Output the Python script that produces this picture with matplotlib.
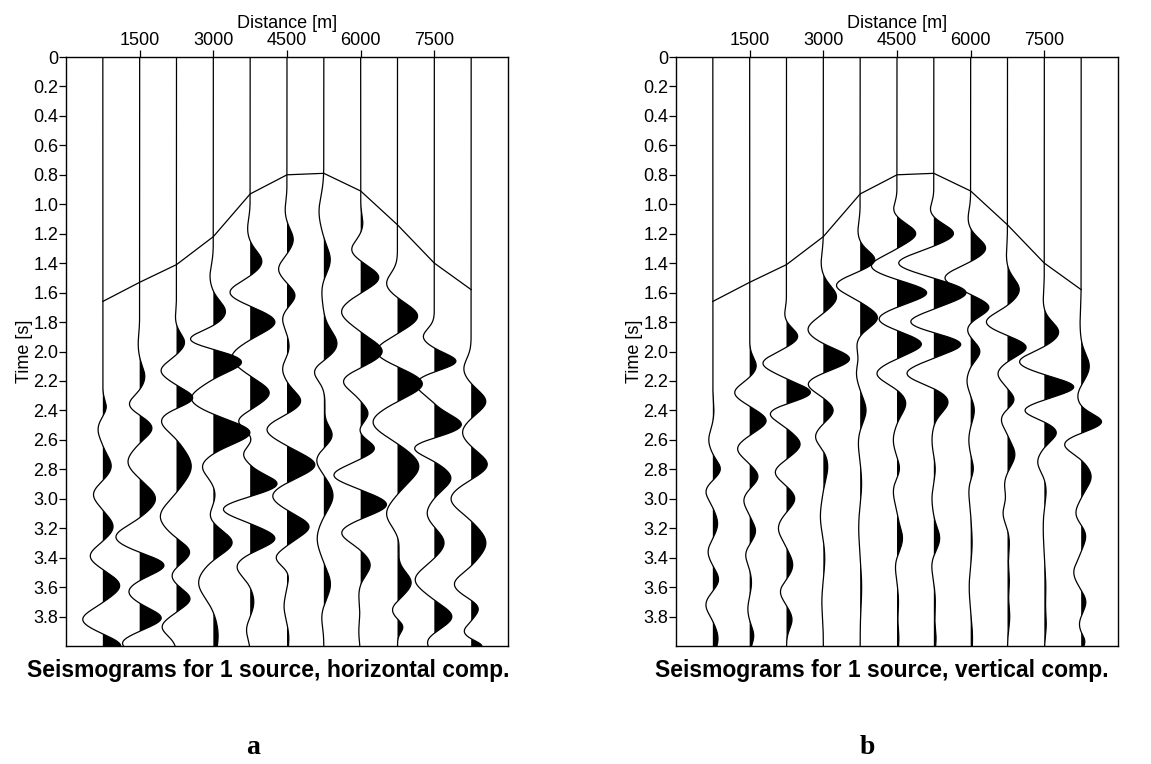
import numpy as np
import matplotlib.pyplot as plt

plt.rcParams['font.family'] = ['Liberation Sans', 'DejaVu Sans']

# receiver offsets [m] and first-arrival times [s]
offsets = [750, 1500, 2250, 3000, 3750, 4500, 5250, 6000, 6750, 7500, 8250]
first_break = [1.66, 1.53, 1.41, 1.22, 0.93, 0.80, 0.79, 0.91, 1.14, 1.40, 1.58]

x_ticks = [1500, 3000, 4500, 6000, 7500]
t_ticks = [0, 0.2, 0.4, 0.6, 0.8, 1.0, 1.2, 1.4, 1.6, 1.8, 2.0, 2.2, 2.4, 2.6,
           2.8, 3.0, 3.2, 3.4, 3.6, 3.8]
t_labels = ['0', '0.2', '0.4', '0.6', '0.8', '1.0', '1.2', '1.4', '1.6', '1.8',
            '2.0', '2.2', '2.4', '2.6', '2.8', '3.0', '3.2', '3.4', '3.6', '3.8']

# wiggle lobes per trace: (time of extremum [s], deflection in trace spacings)
horiz_lobes = [
    [(2.38, 0.10), (2.53, -0.13), (2.78, 0.23), (2.97, -0.26), (3.19, 0.28),
     (3.39, -0.35), (3.59, 0.46), (3.82, -0.55), (4.00, 0.50)],
    [(1.95, -0.04), (2.17, 0.14), (2.36, -0.29), (2.52, 0.34), (2.75, -0.32),
     (3.00, 0.43), (3.26, -0.65), (3.45, 0.68), (3.63, -0.30), (3.81, 0.59),
     (3.98, -0.47)],
    [(1.77, -0.03), (1.94, 0.22), (2.13, -0.42), (2.32, 0.49), (2.47, -0.42),
     (2.78, 0.40), (3.12, -0.44), (3.36, 0.37), (3.52, -0.14), (3.68, 0.37),
     (3.87, -0.39)],
    [(1.49, -0.09), (1.73, 0.33), (1.92, -0.67), (2.07, 0.78), (2.32, -0.60),
     (2.55, 1.00), (2.78, -0.30), (2.97, 0.05), (3.12, -0.10), (3.30, 0.52),
     (3.57, -0.40), (3.93, 0.13)],
    [(1.17, -0.07), (1.39, 0.32), (1.60, -0.56), (1.80, 0.68), (2.04, -0.50),
     (2.28, 0.52), (2.47, -0.32), (2.60, 0.05), (2.70, -0.18), (2.90, 0.74),
     (3.07, -0.74), (3.27, 0.68), (3.46, -0.36), (3.70, 0.10), (3.89, -0.10)],
    [(1.04, -0.05), (1.24, 0.17), (1.44, -0.23), (1.62, 0.22), (1.78, -0.12),
     (1.97, 0.06), (2.12, -0.12), (2.34, 0.38), (2.53, -0.55), (2.77, 0.76),
     (2.98, -0.40), (3.19, 0.60), (3.40, -0.30), (3.52, 0.05), (3.73, -0.08),
     (3.95, 0.05)],
    [(1.05, -0.13), (1.38, 0.18), (1.58, -0.06), (1.95, 0.36), (2.13, -0.29),
     (2.35, 0.03), (2.57, 0.23), (2.74, -0.20), (2.98, 0.25), (3.27, -0.18),
     (3.58, 0.18), (3.80, -0.06)],
    [(1.13, 0.06), (1.31, -0.25), (1.50, 0.50), (1.73, -0.52), (2.00, 0.59),
     (2.20, -0.48), (2.42, 0.20), (2.53, -0.05), (2.66, 0.38), (2.84, -0.73),
     (3.04, 0.71), (3.23, -0.52), (3.45, 0.26), (3.65, -0.05), (3.90, -0.05)],
    [(1.54, -0.30), (1.76, 0.55), (2.00, -0.58), (2.22, 0.69), (2.48, -0.67),
     (2.78, 0.58), (3.10, -0.30), (3.30, 0.05), (3.57, 0.37), (3.75, -0.15),
     (3.87, 0.15)],
    [(1.90, -0.30), (2.07, 0.63), (2.22, -0.50), (2.50, 0.75), (2.65, -0.60),
     (2.86, 0.45), (3.10, -0.20), (3.30, 0.27), (3.55, -0.52), (3.80, 0.48),
     (3.97, -0.20)],
    [(2.12, -0.20), (2.34, 0.40), (2.55, -0.24), (2.77, 0.45), (3.00, -0.55),
     (3.30, 0.40), (3.58, -0.46), (3.74, 0.22), (3.90, -0.19), (4.00, 0.30)],
]

vert_lobes = [
    [(2.40, 0.03), (2.60, -0.11), (2.80, 0.21), (2.95, -0.19), (3.17, 0.13),
     (3.36, -0.13), (3.55, 0.16), (3.72, -0.19), (3.95, 0.14)],
    [(2.10, 0.18), (2.28, -0.41), (2.47, 0.45), (2.66, -0.33), (2.85, 0.23),
     (3.01, -0.16), (3.22, 0.16), (3.38, -0.11), (3.57, 0.05), (3.75, -0.05),
     (3.93, 0.11)],
    [(1.75, -0.05), (1.90, 0.31), (2.08, -0.64), (2.28, 0.67), (2.42, -0.46),
     (2.63, 0.37), (2.82, -0.31), (3.00, 0.23), (3.20, -0.22), (3.45, 0.17),
     (3.63, -0.17), (3.82, 0.15)],
    [(1.40, -0.06), (1.63, 0.36), (1.85, -0.42), (2.05, 0.72), (2.22, -0.42),
     (2.40, 0.27), (2.58, -0.22), (2.78, 0.12), (3.12, -0.08), (3.40, 0.04),
     (3.70, -0.04)],
    [(1.18, -0.06), (1.38, 0.41), (1.55, -0.65), (1.77, 0.47), (1.95, -0.09),
     (2.15, -0.10), (2.40, 0.16), (2.62, -0.05), (2.90, 0.04), (3.20, -0.04),
     (3.60, 0.04)],
    [(1.04, -0.10), (1.20, 0.51), (1.42, -0.70), (1.60, 0.82), (1.78, -0.50),
     (1.95, 0.67), (2.15, -0.55), (2.35, 0.24), (2.60, -0.10), (2.80, 0.08),
     (2.95, -0.10), (3.27, 0.15), (3.45, -0.05), (3.70, 0.04), (3.95, 0.05)],
    [(1.04, -0.10), (1.20, 0.54), (1.40, -0.96), (1.60, 0.88), (1.80, -0.65),
     (1.95, 0.75), (2.15, -0.74), (2.34, 0.39), (2.60, -0.05), (2.80, 0.04),
     (3.00, -0.05), (3.27, 0.16), (3.45, -0.06), (3.70, 0.04), (3.95, 0.06)],
    [(1.10, -0.07), (1.30, 0.41), (1.50, -0.70), (1.70, 0.50), (1.85, -0.10),
     (2.00, 0.25), (2.20, -0.10), (2.40, 0.10), (2.60, -0.05), (2.80, 0.08),
     (2.95, -0.05), (3.30, 0.04), (3.60, -0.04), (3.95, 0.05)],
    [(1.35, -0.03), (1.58, 0.32), (1.80, -0.58), (1.97, 0.52), (2.15, -0.26),
     (2.33, 0.19), (2.46, -0.17), (2.70, 0.20), (2.90, -0.08), (3.10, -0.12),
     (3.30, 0.05), (3.55, 0.05), (3.80, 0.06)],
    [(1.65, -0.03), (1.87, 0.39), (2.07, -0.68), (2.24, 0.81), (2.40, -0.54),
     (2.55, 0.33), (2.75, -0.18), (2.95, 0.05), (3.20, -0.03), (3.60, 0.04),
     (3.85, 0.05)],
    [(1.80, -0.03), (2.10, 0.22), (2.30, -0.10), (2.48, 0.57), (2.63, -0.46),
     (2.85, 0.27), (3.10, -0.15), (3.25, 0.13), (3.50, -0.20), (3.70, 0.13),
     (3.85, -0.05), (3.97, 0.10)],
]

spacing = offsets[1] - offsets[0]
t = np.linspace(0.0, 4.0, 2001)


def trace_from_lobes(lobes):
    # sum of gaussian lobes, width taken from the gap to neighbouring extrema
    times = np.array([l[0] for l in lobes])
    amps = np.array([l[1] for l in lobes])
    gaps = np.diff(times)
    trace = np.zeros_like(t)
    for i in range(len(times)):
        near = []
        if i > 0:
            near.append(gaps[i - 1])
        if i < len(gaps):
            near.append(gaps[i])
        w = 0.45 * np.mean(near)
        trace += amps[i] * np.exp(-((t - times[i]) / w) ** 2)
    return trace


def draw_panel(ax, lobes_list):
    for x0, lobes in zip(offsets, lobes_list):
        xs = x0 + trace_from_lobes(lobes) * spacing
        ax.fill_betweenx(t, x0, xs, where=xs > x0, color='black', lw=0,
                         interpolate=True)
        ax.plot(xs, t, color='black', lw=0.9)
    ax.plot(offsets, first_break, color='black', lw=0.9)

    ax.set_xlim(0, 9000)
    ax.set_ylim(4.0, 0)
    ax.xaxis.tick_top()
    ax.xaxis.set_label_position('top')
    ax.set_xticks(x_ticks)
    ax.set_yticks(t_ticks)
    ax.set_yticklabels(t_labels)
    ax.tick_params(direction='out', length=5, width=0.9, labelsize=13,
                   pad=0.5, top=True, bottom=False, right=False)
    ax.set_xlabel('Distance [m]', fontsize=13, labelpad=3)
    ax.set_ylabel('Time [s]', fontsize=13, labelpad=0)
    for s in ax.spines.values():
        s.set_linewidth(1.0)


fig = plt.figure(figsize=(11.51, 7.64), dpi=100)
ax1 = fig.add_axes([66 / 1151, 1 - 646 / 764, 442 / 1151, 589 / 764])
ax2 = fig.add_axes([676 / 1151, 1 - 646 / 764, 442 / 1151, 589 / 764])

draw_panel(ax1, horiz_lobes)
draw_panel(ax2, vert_lobes)

fig.text(268 / 1151, 1 - 670 / 764, 'Seismograms for 1 source, horizontal comp.',
         ha='center', va='center', fontsize=16.5, fontweight='bold')
fig.text(882 / 1151, 1 - 670 / 764, 'Seismograms for 1 source, vertical comp.',
         ha='center', va='center', fontsize=16.5, fontweight='bold')
fig.text(253 / 1151, 1 - 748 / 764, 'a', ha='center', va='center',
         fontsize=20, fontweight='bold', family='Liberation Serif')
fig.text(867 / 1151, 1 - 748 / 764, 'b', ha='center', va='center',
         fontsize=20, fontweight='bold', family='Liberation Serif')

fig.savefig('out.png', dpi=100)
